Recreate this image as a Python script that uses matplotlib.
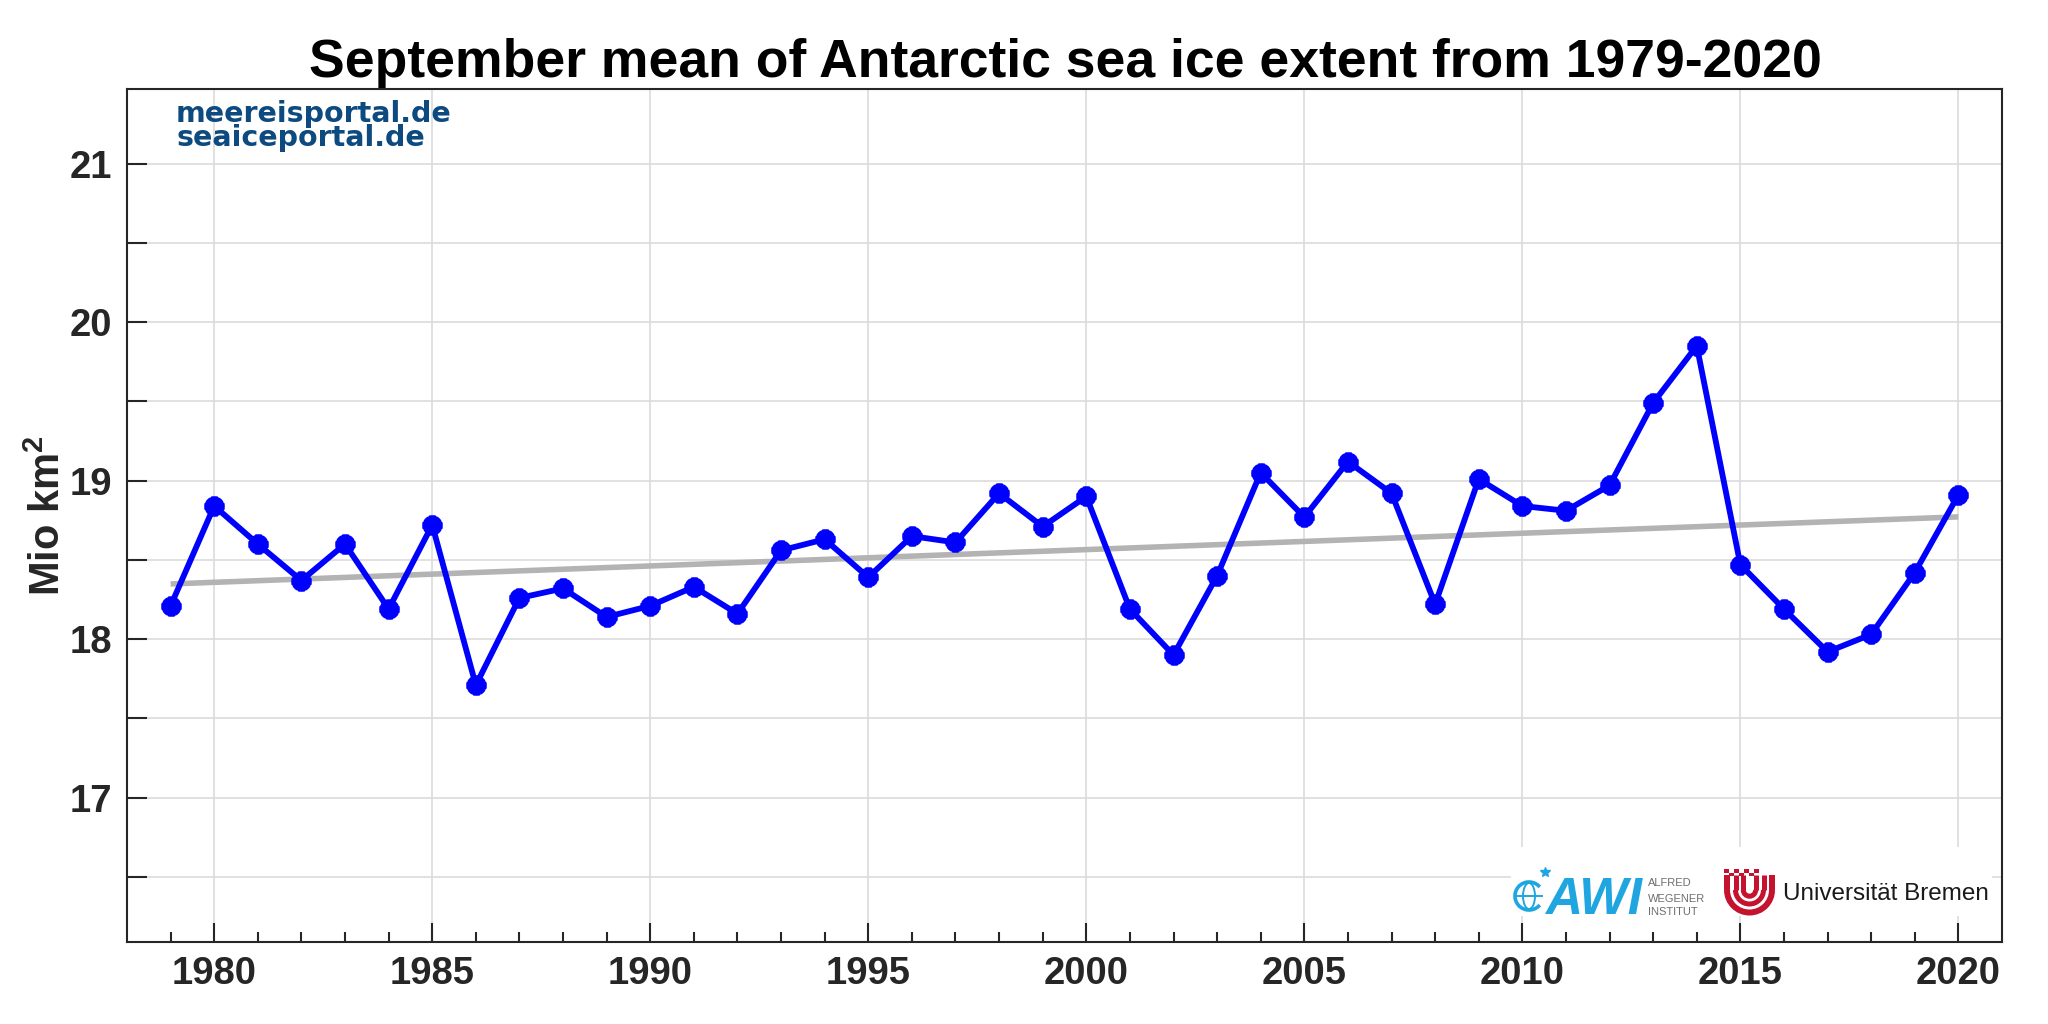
import numpy as np
import matplotlib.pyplot as plt
from matplotlib.patches import Rectangle, Arc, Ellipse

plt.rcParams['font.family'] = ['Liberation Sans', 'DejaVu Sans']
plt.rcParams['font.weight'] = 'bold'
plt.rcParams['mathtext.fontset'] = 'custom'
plt.rcParams['mathtext.bf'] = 'Liberation Sans:bold'
plt.rcParams['mathtext.rm'] = 'Liberation Sans:bold'

# September mean sea ice extent, Mio km^2
years = list(range(1979, 2021))
extent = [18.21, 18.84, 18.60, 18.37, 18.60, 18.19, 18.72, 17.71, 18.26, 18.32,
          18.14, 18.21, 18.33, 18.16, 18.56, 18.63, 18.39, 18.65, 18.61, 18.92,
          18.71, 18.90, 18.19, 17.90, 18.40, 19.05, 18.77, 19.12, 18.92, 18.22,
          19.01, 18.84, 18.81, 18.97, 19.49, 19.85, 18.47, 18.19, 17.92, 18.03,
          18.42, 18.91]
xtick_years = [1980, 1985, 1990, 1995, 2000, 2005, 2010, 2015, 2020]
ytick_vals = [16.5, 17, 17.5, 18, 18.5, 19, 19.5, 20, 20.5, 21]

title = 'September mean of Antarctic sea ice extent from 1979-2020'
ylabel = r'Mio km$^{\mathbf{2}}$'

W, H = 2048, 1024
fig = plt.figure(figsize=(W / 100, H / 100), dpi=100)

def px_axes(x0, y0, x1, y1):
    # axes in pixel coords, origin top-left
    return fig.add_axes([x0 / W, 1 - y1 / H, (x1 - x0) / W, (y1 - y0) / H])

ax = px_axes(127, 89, 2002, 942)

# linear trend
coef = np.polyfit(years, extent, 1)
trend = np.polyval(coef, years)
ax.plot(years, trend, color='#b3b3b3', lw=4, zorder=2, solid_capstyle='butt')

ax.plot(years, extent, color='#0000ff', lw=4.2, zorder=3,
        marker='o', ms=13.5, mfc='#0000ff', mec='#0000ff')
ax.plot(years, extent, ls='none', marker='+', ms=15, mew=5,
        mec='#0000ff', zorder=4)

ax.set_xlim(1978, 2021)
ax.set_ylim(16.09, 21.47)
ax.set_xticks(xtick_years)
ax.set_xticks(years, minor=True)
ax.set_yticks(ytick_vals)
ax.set_yticklabels([('%d' % v) if v == int(v) else '' for v in ytick_vals])

ax.tick_params(axis='both', which='both', direction='in', colors='#262626', width=1.5)
ax.tick_params(axis='both', which='major', labelsize=27.5)
ax.tick_params(axis='y', which='major', length=14.5, pad=11)
ax.tick_params(axis='x', which='major', length=14, pad=10)
ax.tick_params(axis='x', which='minor', length=7)
ax.tick_params(axis='y', which='minor', left=False)

for sp in ax.spines.values():
    sp.set_linewidth(1.5)
    sp.set_color('#262626')

ax.grid(True, which='major', color='#dcdcdc', lw=1.2)
ax.set_axisbelow(True)

ax.set_ylabel(ylabel, fontsize=30, fontweight='bold', color='#262626')
ax.yaxis.set_label_coords(-0.031, 0.5)

fig.text(1065 / W, 1 - 77 / H, title, ha='center', va='baseline',
         fontsize=38.5, color='black')

# watermark
wm_color = '#0d4a7f'
fig.text(176 / W, 1 - 122 / H, 'meereisportal.de', family='DejaVu Sans',
         fontsize=20.5, color=wm_color, va='baseline', ha='left')
fig.text(176 / W, 1 - 146 / H, 'seaiceportal.de', family='DejaVu Sans',
         fontsize=20.5, color=wm_color, va='baseline', ha='left')

# logo strip (drawn approximation)
lax = px_axes(1511, 847, 1992, 916)
lax.set_xlim(1511, 1992)
lax.set_ylim(916, 847)
lax.set_xticks([])
lax.set_yticks([])
for sp in lax.spines.values():
    sp.set_visible(False)
lax.set_facecolor('white')

awi_blue = '#1fa6e0'
lax.add_patch(Arc((1529, 896), 28, 28, theta1=40, theta2=320, color=awi_blue, lw=2.6))
lax.add_patch(Ellipse((1529, 896), 12, 26, fill=False, ec=awi_blue, lw=1.4))
lax.plot([1516, 1542], [896, 896], color=awi_blue, lw=1.4)
lax.plot([1545], [872], marker='*', ms=7, color=awi_blue)
lax.text(1545, 914, 'AWI', fontsize=37, fontweight='bold', style='italic',
         color=awi_blue, va='baseline', ha='left')
for txt, yb in [('ALFRED', 886), ('WEGENER', 902), ('INSTITUT', 915)]:
    lax.text(1648, yb, txt, fontsize=8, fontweight='normal', color='#6d6e71',
             va='baseline', ha='left')

ub_red = '#c4122f'
cx, cy = 1749.5, 890
for r, lw in [(22.5, 6), (14, 5), (6.2, 5)]:
    lax.add_patch(Arc((cx, cy), 2 * r, 2 * r, theta1=0, theta2=180,
                      color=ub_red, lw=lw * 0.72))
    lax.plot([cx - r, cx - r], [875, cy], color=ub_red, lw=lw * 0.72, solid_capstyle='butt')
    lax.plot([cx + r, cx + r], [875, cy], color=ub_red, lw=lw * 0.72, solid_capstyle='butt')
for i in range(7):
    for j in range(2):
        if (i + j) % 2 == 0:
            lax.add_patch(Rectangle((1724 + i * 5, 869 + j * 3.5), 5, 3.5,
                                    color=ub_red, lw=0))
lax.text(1783, 900, 'Universität Bremen', fontsize=17.5, fontweight='normal',
         color='#1a1a1a', va='baseline', ha='left')

fig.savefig('out.png', dpi=100)
